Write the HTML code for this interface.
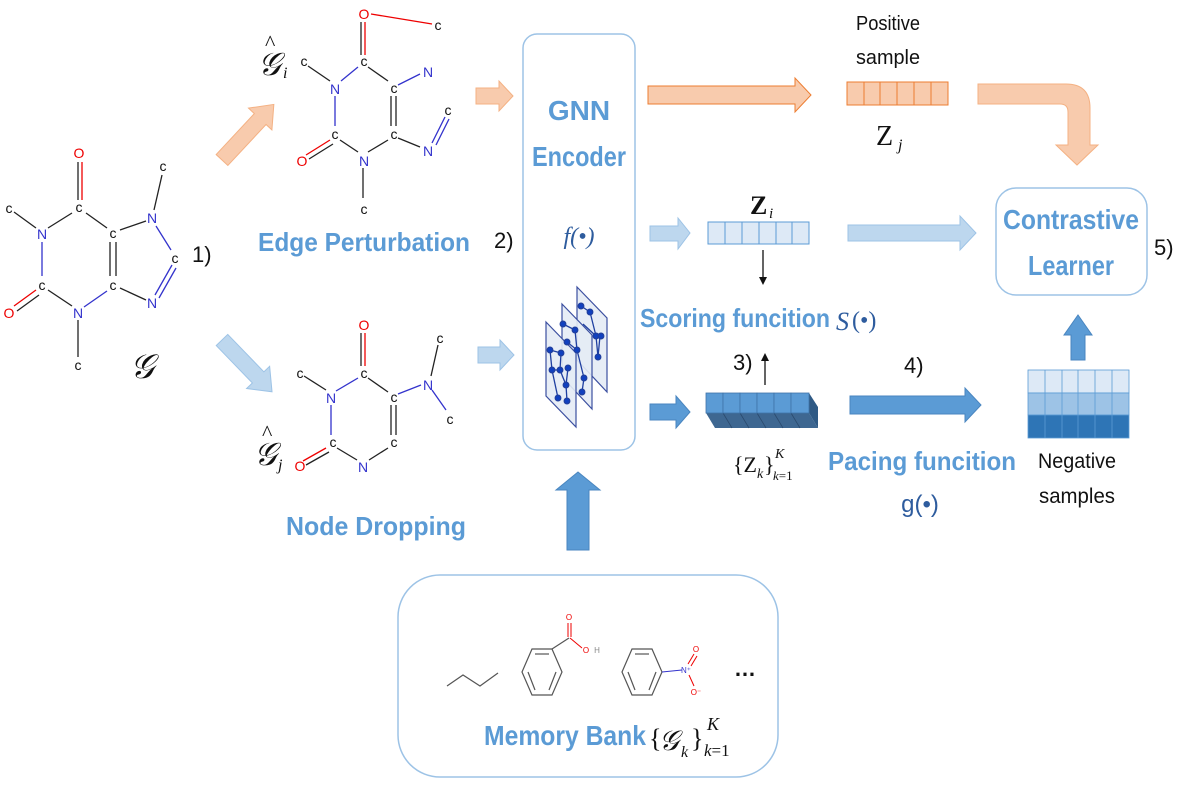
<!DOCTYPE html>
<html><head><meta charset="utf-8"><style>
html,body{margin:0;padding:0;background:#fff;}
svg{display:block;}
.at{font-family:"Liberation Sans",sans-serif;font-size:14px;text-anchor:middle;}
.cal{font-family:"Liberation Sans Narrow","Liberation Sans",sans-serif;}
.blue{fill:#5b9bd5;font-weight:bold;}
.m{font-family:"Liberation Serif",serif;font-style:italic;}
</style></head><body>
<svg width="1180" height="785" viewBox="0 0 1180 785" xmlns="http://www.w3.org/2000/svg">
<!-- Left molecule G -->
<g stroke-width="1.3" fill="none">
 <line x1="78" y1="162" x2="78" y2="200" stroke="#222"/><line x1="82" y1="162" x2="82" y2="200" stroke="#e00"/>
 <line x1="72" y1="213" x2="48" y2="228" stroke="#222"/>
 <line x1="86" y1="213" x2="107" y2="228" stroke="#222"/>
 <line x1="14" y1="212" x2="36" y2="228" stroke="#222"/>
 <line x1="42" y1="242" x2="42" y2="276" stroke="#33c"/>
 <line x1="36" y1="290" x2="14" y2="306" stroke="#e00"/><line x1="39" y1="295" x2="17" y2="311" stroke="#222"/>
 <line x1="48" y1="290" x2="72" y2="306" stroke="#222"/>
 <line x1="78" y1="320" x2="78" y2="357" stroke="#222"/>
 <line x1="84" y1="307" x2="107" y2="291" stroke="#33c"/>
 <line x1="110" y1="242" x2="110" y2="276" stroke="#222"/><line x1="116" y1="242" x2="116" y2="276" stroke="#222"/>
 <line x1="120" y1="230" x2="146" y2="221" stroke="#222"/>
 <line x1="154" y1="210" x2="162" y2="175" stroke="#222"/>
 <line x1="156" y1="226" x2="171" y2="250" stroke="#33c"/>
 <line x1="172" y1="265" x2="155" y2="295" stroke="#33c"/><line x1="176" y1="268" x2="159" y2="298" stroke="#33c"/>
 <line x1="120" y1="288" x2="146" y2="300" stroke="#222"/>
</g>
<g class="at">
 <text x="79" y="158" fill="#e00">O</text><text x="79" y="212" fill="#111">c</text>
 <text x="42" y="239" fill="#33c">N</text><text x="9" y="213" fill="#111">c</text>
 <text x="42" y="290" fill="#111">c</text><text x="9" y="318" fill="#e00">O</text>
 <text x="78" y="318" fill="#33c">N</text><text x="78" y="370" fill="#111">c</text>
 <text x="113" y="238" fill="#111">c</text><text x="113" y="290" fill="#111">c</text>
 <text x="152" y="223" fill="#33c">N</text><text x="163" y="171" fill="#111">c</text>
 <text x="175" y="263" fill="#111">c</text><text x="152" y="308" fill="#33c">N</text>
</g>
<text x="192" y="262" font-family="Liberation Sans Narrow,Liberation Sans,sans-serif" font-size="22" fill="#111">1)</text>
<text x="130" y="378" class="m" font-size="34" fill="#111">𝒢</text>

<!-- diagonal arrows -->
<polygon transform="translate(222,160) rotate(-47)" points="0,-8 56,-8 56,-16 76,0 56,16 56,8 0,8" fill="#f8cbad" stroke="#f4b183" stroke-width="1"/>
<polygon transform="translate(222,340) rotate(46)" points="0,-8 52,-8 52,-16 72,0 52,16 52,8 0,8" fill="#bdd7ee" stroke="#9dc3e6" stroke-width="1"/>

<!-- Edge perturbation molecule -->
<g stroke-width="1.3" fill="none">
 <line x1="371" y1="14" x2="432" y2="24" stroke="#e00"/>
 <line x1="361" y1="22" x2="361" y2="55" stroke="#222"/><line x1="365" y1="22" x2="365" y2="55" stroke="#e00"/>
 <line x1="308" y1="66" x2="330" y2="81" stroke="#222"/>
 <line x1="341" y1="81" x2="358" y2="67" stroke="#33c"/>
 <line x1="368" y1="67" x2="388" y2="81" stroke="#222"/>
 <line x1="398" y1="85" x2="420" y2="74" stroke="#33c"/>
 <line x1="335" y1="96" x2="335" y2="126" stroke="#33c"/>
 <line x1="391" y1="96" x2="391" y2="126" stroke="#222"/><line x1="396" y1="96" x2="396" y2="126" stroke="#222"/>
 <line x1="330" y1="140" x2="306" y2="155" stroke="#e00"/><line x1="333" y1="144" x2="309" y2="159" stroke="#222"/>
 <line x1="340" y1="140" x2="358" y2="152" stroke="#222"/>
 <line x1="368" y1="152" x2="388" y2="140" stroke="#222"/>
 <line x1="398" y1="138" x2="420" y2="147" stroke="#222"/>
 <line x1="432" y1="143" x2="445" y2="117" stroke="#33c"/><line x1="436" y1="145" x2="449" y2="119" stroke="#33c"/>
 <line x1="363" y1="168" x2="363" y2="198" stroke="#222"/>
</g>
<g class="at">
 <text x="364" y="19" fill="#e00">O</text><text x="438" y="30" fill="#111">c</text>
 <text x="364" y="66" fill="#111">c</text><text x="304" y="66" fill="#111">c</text>
 <text x="335" y="94" fill="#33c">N</text><text x="394" y="93" fill="#111">c</text>
 <text x="428" y="77" fill="#33c">N</text><text x="448" y="115" fill="#111">c</text>
 <text x="335" y="139" fill="#111">c</text><text x="394" y="139" fill="#111">c</text>
 <text x="428" y="156" fill="#33c">N</text><text x="302" y="166" fill="#e00">O</text>
 <text x="364" y="166" fill="#33c">N</text><text x="364" y="214" fill="#111">c</text>
</g>
<text x="258" y="75" class="m" font-size="32" fill="#111">𝒢</text>
<text x="265" y="50" font-family="Liberation Serif,serif" font-size="22" fill="#111">^</text>
<text x="283" y="78" class="m" font-size="16" fill="#111">i</text>
<text x="364" y="251" class="cal blue" font-size="26" text-anchor="middle" textLength="212" lengthAdjust="spacingAndGlyphs">Edge Perturbation</text>

<!-- Node dropping molecule -->
<g stroke-width="1.3" fill="none">
 <line x1="361" y1="333" x2="361" y2="366" stroke="#222"/><line x1="365" y1="333" x2="365" y2="366" stroke="#e00"/>
 <line x1="304" y1="376" x2="326" y2="390" stroke="#222"/>
 <line x1="336" y1="391" x2="358" y2="378" stroke="#33c"/>
 <line x1="368" y1="378" x2="388" y2="392" stroke="#222"/>
 <line x1="398" y1="394" x2="421" y2="385" stroke="#33c"/>
 <line x1="431" y1="376" x2="438" y2="345" stroke="#222"/>
 <line x1="432" y1="390" x2="446" y2="410" stroke="#33c"/>
 <line x1="331" y1="405" x2="331" y2="435" stroke="#33c"/>
 <line x1="391" y1="405" x2="391" y2="435" stroke="#222"/><line x1="396" y1="405" x2="396" y2="435" stroke="#222"/>
 <line x1="326" y1="448" x2="303" y2="461" stroke="#e00"/><line x1="329" y1="452" x2="306" y2="465" stroke="#222"/>
 <line x1="337" y1="448" x2="357" y2="460" stroke="#222"/>
 <line x1="369" y1="460" x2="388" y2="448" stroke="#222"/>
</g>
<g class="at">
 <text x="364" y="330" fill="#e00">O</text><text x="364" y="378" fill="#111">c</text>
 <text x="300" y="378" fill="#111">c</text><text x="331" y="403" fill="#33c">N</text>
 <text x="394" y="402" fill="#111">c</text><text x="428" y="390" fill="#33c">N</text>
 <text x="440" y="343" fill="#111">c</text><text x="450" y="424" fill="#111">c</text>
 <text x="333" y="447" fill="#111">c</text><text x="394" y="447" fill="#111">c</text>
 <text x="363" y="472" fill="#33c">N</text><text x="300" y="471" fill="#e00">O</text>
</g>
<text x="254" y="465" class="m" font-size="32" fill="#111">𝒢</text>
<text x="262" y="440" font-family="Liberation Serif,serif" font-size="22" fill="#111">^</text>
<text x="278" y="470" class="m" font-size="16" fill="#111">j</text>
<text x="376" y="535" class="cal blue" font-size="26" text-anchor="middle" textLength="180" lengthAdjust="spacingAndGlyphs">Node Dropping</text>

<!-- small input arrows -->
<polygon points="476,88 499,88 499,81 513,96 499,111 499,104 476,104" fill="#f8cbad" stroke="#f4b183"/>
<polygon points="478,347 500,347 500,340 514,355 500,370 500,363 478,363" fill="#bdd7ee" stroke="#9dc3e6"/>

<!-- GNN box -->
<rect x="523" y="34" width="112" height="416" rx="14" fill="#fff" stroke="#9dc3e6" stroke-width="1.5"/>
<text x="579" y="120" class="cal blue" font-size="28" text-anchor="middle">GNN</text>
<text x="579" y="166" class="cal blue" font-size="28" text-anchor="middle" textLength="94" lengthAdjust="spacingAndGlyphs">Encoder</text>
<text x="579" y="244" class="m" font-size="24" fill="#2e5c9e" text-anchor="middle">f(•)</text>
<text x="494" y="248" font-family="Liberation Sans Narrow,Liberation Sans,sans-serif" font-size="22" fill="#111">2)</text>
<!-- layer stack -->
<g stroke="#3b4fa0" stroke-width="1.2" fill="#e4ebf5" fill-opacity="0.9">
 <polygon points="577,287 607,318 607,392 577,360"/>
 <polygon points="562,304 592,335 592,409 562,377"/>
 <polygon points="546,322 576,353 576,427 546,396"/>
</g>
<g stroke="#1f3fa0" stroke-width="1.3" fill="#1040c0">
 <line x1="581" y1="306" x2="590" y2="312"/><line x1="590" y1="312" x2="596" y2="336"/><line x1="596" y1="336" x2="598" y2="357"/><line x1="600" y1="336" x2="598" y2="357"/><line x1="583" y1="324" x2="596" y2="336"/>
 <circle cx="581" cy="306" r="2.8"/><circle cx="590" cy="312" r="2.8"/><circle cx="596" cy="336" r="2.8"/><circle cx="598" cy="357" r="2.8"/><circle cx="601" cy="336" r="2.8"/>
 <line x1="563" y1="324" x2="575" y2="330"/><line x1="575" y1="330" x2="577" y2="350"/><line x1="567" y1="342" x2="577" y2="350"/><line x1="577" y1="350" x2="584" y2="378"/><line x1="584" y1="378" x2="582" y2="392"/>
 <circle cx="563" cy="324" r="2.8"/><circle cx="575" cy="330" r="2.8"/><circle cx="577" cy="350" r="2.8"/><circle cx="584" cy="378" r="2.8"/><circle cx="582" cy="392" r="2.8"/><circle cx="567" cy="342" r="2.8"/>
 <line x1="550" y1="350" x2="561" y2="353"/><line x1="561" y1="353" x2="560" y2="370"/><line x1="552" y1="370" x2="560" y2="370"/><line x1="560" y1="370" x2="566" y2="385"/><line x1="566" y1="385" x2="567" y2="401"/><line x1="552" y1="370" x2="558" y2="398"/><line x1="550" y1="350" x2="552" y2="370"/><line x1="568" y1="368" x2="566" y2="385"/>
 <circle cx="550" cy="350" r="2.8"/><circle cx="561" cy="353" r="2.8"/><circle cx="560" cy="370" r="2.8"/><circle cx="552" cy="370" r="2.8"/><circle cx="566" cy="385" r="2.8"/><circle cx="567" cy="401" r="2.8"/><circle cx="558" cy="398" r="2.8"/><circle cx="568" cy="368" r="2.8"/>
</g>

<!-- memory bank up arrow -->
<polygon points="567,550 567,490 556,490 578,472 600,490 589,490 589,550" fill="#5b9bd5" stroke="#4a86c0"/>

<!-- top row: positive -->
<polygon points="648,86 795,86 795,78 811,95 795,112 795,104 648,104" fill="#f8cbad" stroke="#ed7d31" stroke-width="1"/>
<text x="888" y="30" font-family="Liberation Sans Narrow,Liberation Sans,sans-serif" font-size="20" fill="#111" text-anchor="middle" textLength="64" lengthAdjust="spacingAndGlyphs">Positive</text>
<text x="888" y="64" font-family="Liberation Sans Narrow,Liberation Sans,sans-serif" font-size="20" fill="#111" text-anchor="middle" textLength="64" lengthAdjust="spacingAndGlyphs">sample</text>
<g fill="#f8cbad" stroke="#ed7d31" stroke-width="1">
 <rect x="847" y="82" width="17" height="23"/><rect x="864" y="82" width="16" height="23"/><rect x="880" y="82" width="17" height="23"/><rect x="897" y="82" width="17" height="23"/><rect x="914" y="82" width="17" height="23"/><rect x="931" y="82" width="17" height="23"/>
</g>
<text x="876" y="145" font-family="Liberation Serif,serif" font-size="28" fill="#111">Z</text>
<text x="898" y="150" class="m" font-size="16" fill="#111">j</text>
<path d="M978,84 H1066 Q1090,84 1090,108 V145 H1098 L1077,165 L1056,145 H1068 V112 Q1068,104 1060,104 H978 Z" fill="#f8cbad" stroke="#f4b183" stroke-width="1"/>

<!-- middle row -->
<polygon points="650,226 678,226 678,218 690,233 678,249 678,241 650,241" fill="#bdd7ee" stroke="#9dc3e6"/>
<text x="750" y="214" font-family="Liberation Serif,serif" font-weight="bold" font-size="26" fill="#111">Z</text>
<text x="769" y="218" class="m" font-size="15" fill="#111">i</text>
<g fill="#dde9f6" stroke="#5b9bd5" stroke-width="1">
 <rect x="708" y="222" width="17" height="22"/><rect x="725" y="222" width="17" height="22"/><rect x="742" y="222" width="17" height="22"/><rect x="759" y="222" width="17" height="22"/><rect x="776" y="222" width="16" height="22"/><rect x="792" y="222" width="17" height="22"/>
</g>
<polygon points="848,225 960,225 960,216 976,233 960,250 960,241 848,241" fill="#bdd7ee" stroke="#9dc3e6"/>
<line x1="763" y1="250" x2="763" y2="278" stroke="#111" stroke-width="1.3"/>
<polygon points="759,277 767,277 763,285" fill="#111"/>
<text x="640" y="327" class="cal blue" font-size="26" textLength="190" lengthAdjust="spacingAndGlyphs">Scoring funcition</text>
<text x="836" y="330" class="m" font-size="26" fill="#2e5c9e">S</text>
<text x="852" y="328" font-family="Liberation Serif,serif" font-size="24" fill="#2e5c9e">(•)</text>

<!-- Contrastive learner -->
<rect x="996" y="188" width="151" height="107" rx="20" fill="#fff" stroke="#9dc3e6" stroke-width="1.5"/>
<text x="1071" y="229" class="cal blue" font-size="28" text-anchor="middle" textLength="136" lengthAdjust="spacingAndGlyphs">Contrastive</text>
<text x="1071" y="275" class="cal blue" font-size="28" text-anchor="middle" textLength="86" lengthAdjust="spacingAndGlyphs">Learner</text>
<text x="1154" y="255" font-family="Liberation Sans Narrow,Liberation Sans,sans-serif" font-size="22" fill="#111">5)</text>

<!-- bottom row -->
<text x="733" y="370" font-family="Liberation Sans Narrow,Liberation Sans,sans-serif" font-size="22" fill="#111">3)</text>
<line x1="765" y1="385" x2="765" y2="360" stroke="#111" stroke-width="1.3"/>
<polygon points="761,361 769,361 765,353" fill="#111"/>
<polygon points="650,404 676,404 676,396 690,412 676,428 676,420 650,420" fill="#5b9bd5" stroke="#4a86c0"/>
<polygon points="706,413 809,413 818,428 715,428" fill="#3e6791"/>
<polygon points="809,393 818,407 818,428 809,413" fill="#2f5a85"/>
<g stroke="#2b4a6e" stroke-width="0.8">
 <line x1="723" y1="413" x2="732" y2="428"/><line x1="740" y1="413" x2="749" y2="428"/><line x1="757" y1="413" x2="766" y2="428"/><line x1="774" y1="413" x2="783" y2="428"/><line x1="791" y1="413" x2="800" y2="428"/>
</g>
<g fill="#5b9bd5" stroke="#3f73a8" stroke-width="0.8">
 <rect x="706" y="393" width="17" height="20"/><rect x="723" y="393" width="17" height="20"/><rect x="740" y="393" width="17" height="20"/><rect x="757" y="393" width="17" height="20"/><rect x="774" y="393" width="17" height="20"/><rect x="791" y="393" width="18" height="20"/>
</g>
<text x="733" y="472" font-family="Liberation Serif,serif" font-size="22" fill="#111">{Z</text>
<text x="757" y="478" class="m" font-size="14" fill="#111">k</text>
<text x="764" y="472" font-family="Liberation Serif,serif" font-size="22" fill="#111">}</text>
<text x="775" y="458" class="m" font-size="14" fill="#111">K</text>
<text x="773" y="480" font-family="Liberation Serif,serif" font-size="13" fill="#111"><tspan font-style="italic">k</tspan>=1</text>
<text x="904" y="373" font-family="Liberation Sans Narrow,Liberation Sans,sans-serif" font-size="22" fill="#111">4)</text>
<polygon points="850,396 965,396 965,388 981,405 965,422 965,414 850,414" fill="#5b9bd5" stroke="#4a86c0"/>
<text x="828" y="470" class="cal blue" font-size="26" textLength="188" lengthAdjust="spacingAndGlyphs">Pacing funcition</text>
<text x="920" y="512" font-family="Liberation Sans,sans-serif" font-size="24" fill="#2e5c9e" text-anchor="middle">g(•)</text>

<!-- negative samples -->
<polygon points="1071,360 1071,335 1064,335 1078,315 1092,335 1085,335 1085,360" fill="#5b9bd5" stroke="#4a86c0"/>
<g stroke="#5b9bd5" stroke-width="0.8">
 <rect x="1028" y="370" width="101" height="23" fill="#dde9f6"/>
 <rect x="1028" y="393" width="101" height="22" fill="#9dc3e6"/>
 <rect x="1028" y="415" width="101" height="23" fill="#2e75b6"/>
 <line x1="1045" y1="370" x2="1045" y2="438"/><line x1="1062" y1="370" x2="1062" y2="438"/><line x1="1078" y1="370" x2="1078" y2="438"/><line x1="1095" y1="370" x2="1095" y2="438"/><line x1="1112" y1="370" x2="1112" y2="438"/>
</g>
<text x="1077" y="468" font-family="Liberation Sans Narrow,Liberation Sans,sans-serif" font-size="21" fill="#111" text-anchor="middle" textLength="78" lengthAdjust="spacingAndGlyphs">Negative</text>
<text x="1077" y="503" font-family="Liberation Sans Narrow,Liberation Sans,sans-serif" font-size="21" fill="#111" text-anchor="middle" textLength="76" lengthAdjust="spacingAndGlyphs">samples</text>

<!-- memory bank -->
<rect x="398" y="575" width="380" height="202" rx="42" fill="#fff" stroke="#9dc3e6" stroke-width="1.5"/>
<polyline points="447,686 463,675 480,686 498,673" fill="none" stroke="#555" stroke-width="1.2"/>
<g fill="none" stroke="#555" stroke-width="1.2">
 <polygon points="532,649 552,649 562,672 552,695 532,695 522,672"/>
 <line x1="535" y1="654" x2="549" y2="654"/><line x1="556" y1="672" x2="549" y2="690"/><line x1="528" y1="672" x2="535" y2="690"/>
 <line x1="552" y1="649" x2="569" y2="638"/>
 <polygon points="632,649 652,649 662,672 652,695 632,695 622,672"/>
 <line x1="635" y1="654" x2="649" y2="654"/><line x1="656" y1="672" x2="649" y2="690"/><line x1="628" y1="672" x2="635" y2="690"/>
</g>
<line x1="568" y1="637" x2="568" y2="623" stroke="#e00" stroke-width="1"/><line x1="571" y1="637" x2="571" y2="623" stroke="#e00" stroke-width="1"/>
<line x1="570" y1="638" x2="582" y2="648" stroke="#e00" stroke-width="1"/>
<line x1="662" y1="672" x2="682" y2="670" stroke="#33c" stroke-width="1"/>
<line x1="688" y1="664" x2="694" y2="654" stroke="#e00" stroke-width="1"/><line x1="691" y1="666" x2="697" y2="656" stroke="#e00" stroke-width="1"/>
<line x1="689" y1="675" x2="694" y2="686" stroke="#e00" stroke-width="1"/>
<g font-family="Liberation Sans,sans-serif" font-size="8" text-anchor="middle">
 <text x="569" y="620" fill="#e00">O</text><text x="586" y="653" fill="#e00">O</text><text x="597" y="653" fill="#888">H</text>
 <text x="686" y="673" fill="#33c">N⁺</text><text x="696" y="652" fill="#e00">O</text><text x="696" y="695" fill="#e00">O⁻</text>
</g>
<text x="745" y="676" font-family="Liberation Sans,sans-serif" font-size="22" font-weight="bold" fill="#111" text-anchor="middle">…</text>
<text x="484" y="745" class="cal blue" font-size="28" textLength="162" lengthAdjust="spacingAndGlyphs">Memory Bank</text>
<text x="649" y="747" font-family="Liberation Serif,serif" font-size="26" fill="#111">{</text>
<text x="659" y="750" class="m" font-size="28" fill="#111">𝒢</text>
<text x="681" y="757" class="m" font-size="16" fill="#111">k</text>
<text x="691" y="747" font-family="Liberation Serif,serif" font-size="26" fill="#111">}</text>
<text x="707" y="730" class="m" font-size="18" fill="#111">K</text>
<text x="704" y="756" font-family="Liberation Serif,serif" font-size="17" fill="#111"><tspan font-style="italic">k</tspan>=1</text>
</svg>
</body></html>
